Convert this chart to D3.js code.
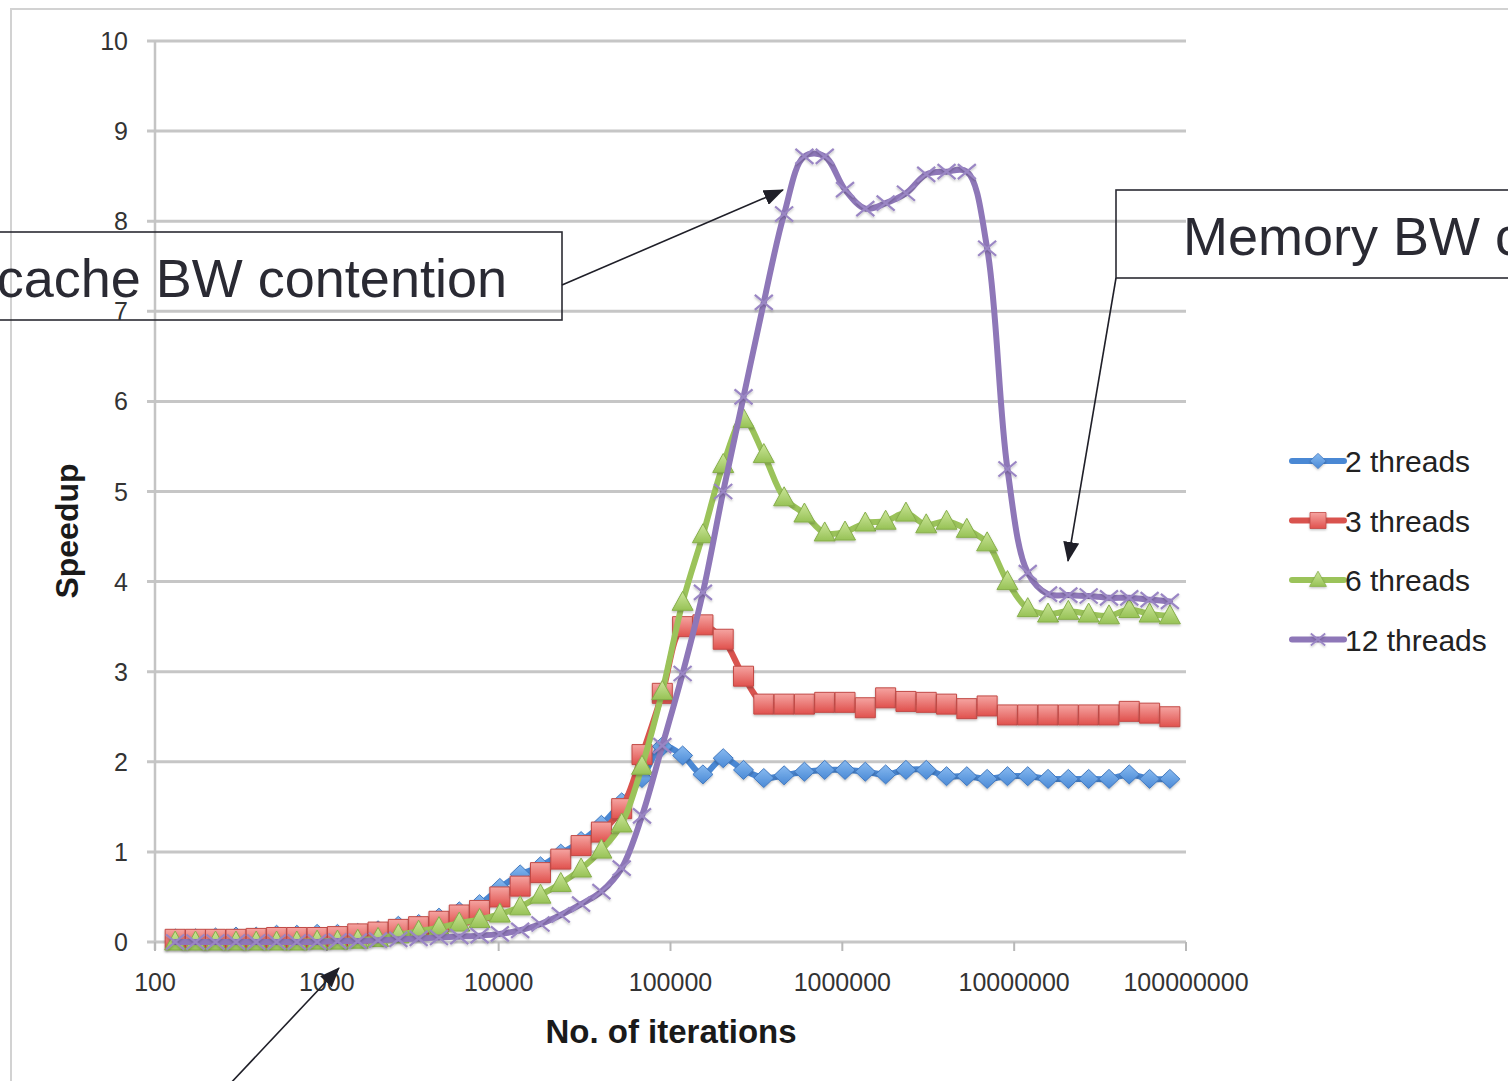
<!DOCTYPE html>
<html>
<head>
<meta charset="utf-8">
<script src="https://cdn.jsdelivr.net/npm/d3@7"></script>
<style>
  body { margin: 0; background: #fff; overflow: hidden; }
  svg { display: block; }
</style>
</head>
<body>
<svg id="chart" width="1508" height="1081"></svg>
<script>
//// data ////
const iterations = [131, 172, 225, 296, 388, 510, 669, 878, 1153, 1513, 1986, 2607, 3422, 4493, 5897, 7742,
  10162, 13339, 17511, 22985, 30174, 39612, 51998, 68262, 89603, 117621, 154418, 202677, 266070, 349140,
  458353, 601737, 789680, 1036810, 1360540, 1786488, 2345500, 3077853, 4040894, 5302634, 6961771, 9141132,
  11995278, 15748778, 20666310, 27132796, 35629005, 46753861, 61390000, 80572000];

const threads2 = [0.04, 0.04, 0.05, 0.06, 0.06, 0.08, 0.08, 0.09, 0.09, 0.10, 0.13, 0.18, 0.20, 0.27, 0.34, 0.42,
  0.60, 0.75, 0.84, 0.98, 1.12, 1.30, 1.55, 1.82, 2.17, 2.07, 1.86, 2.04, 1.91, 1.82, 1.85, 1.89, 1.91, 1.91,
  1.89, 1.86, 1.91, 1.91, 1.84, 1.84, 1.81, 1.84, 1.84, 1.81, 1.81, 1.81, 1.81, 1.86, 1.81, 1.81];

const threads3 = [0.03, 0.03, 0.03, 0.03, 0.04, 0.05, 0.05, 0.05, 0.06, 0.09, 0.11, 0.14, 0.17, 0.23, 0.30, 0.35,
  0.50, 0.62, 0.77, 0.92, 1.07, 1.22, 1.48, 2.08, 2.76, 3.50, 3.52, 3.36, 2.95, 2.64, 2.64, 2.64, 2.66, 2.66,
  2.60, 2.71, 2.67, 2.66, 2.64, 2.59, 2.62, 2.52, 2.52, 2.52, 2.52, 2.52, 2.52, 2.56, 2.54, 2.50];

const threads6 = [0.0, 0.0, 0.0, 0.0, 0.0, 0.0, 0.0, 0.01, 0.01, 0.02, 0.04, 0.08, 0.12, 0.16, 0.21, 0.25,
  0.31, 0.39, 0.52, 0.65, 0.81, 1.02, 1.31, 1.95, 2.78, 3.77, 4.52, 5.30, 5.80, 5.41, 4.93, 4.75, 4.54, 4.55,
  4.65, 4.67, 4.76, 4.63, 4.67, 4.58, 4.43, 4.00, 3.70, 3.64, 3.67, 3.64, 3.62, 3.69, 3.64, 3.62];

const threads12 = [0.0, 0.0, 0.0, 0.0, 0.0, 0.0, 0.0, 0.0, 0.01, 0.01, 0.02, 0.03, 0.04, 0.05, 0.06, 0.07,
  0.09, 0.13, 0.20, 0.30, 0.42, 0.56, 0.82, 1.40, 2.18, 2.98, 3.88, 5.00, 6.05, 7.10, 8.08, 8.72, 8.72, 8.35,
  8.14, 8.20, 8.31, 8.52, 8.55, 8.55, 7.70, 5.25, 4.10, 3.86, 3.85, 3.84, 3.82, 3.82, 3.80, 3.78];

const seriesNames = ['2 threads', '3 threads', '6 threads', '12 threads'];
const yTicks = [0, 1, 2, 3, 4, 5, 6, 7, 8, 9, 10];
const xTicks = [100, 1000, 10000, 100000, 1000000, 10000000, 100000000];
const xTickLabels = ['100', '1000', '10000', '100000', '1000000', '10000000', '100000000'];

const allSeries = [
  {name: seriesNames[0], values: threads2, line: '#4a88d4', marker: 'diamond', grad: ['#86b9f0', '#4b8ad6'], edge: '#4279c0'},
  {name: seriesNames[1], values: threads3, line: '#d9534e', marker: 'square', grad: ['#f5a4a1', '#e0514d'], edge: '#c24a46'},
  {name: seriesNames[2], values: threads6, line: '#9bc35a', marker: 'triangle', grad: ['#cce69a', '#97c256'], edge: '#86ae4a'},
  {name: seriesNames[3], values: threads12, line: '#8e77b8', marker: 'cross', grad: null, edge: '#9a86c4'}
];

let svg = d3.select('#chart');

let x = d3.scaleLog().domain([100, 1e8]).range([155, 1186]);
let y = d3.scaleLinear().domain([0, 10]).range([942, 41]);

///// defs: gradients + arrow /////
let defs = svg.append('defs');
allSeries.forEach((s, i) => {
  if (!s.grad) return;
  let g = defs.append('linearGradient').attr('id', 'grad' + i)
    .attr('x1', 0).attr('x2', 0).attr('y1', 0).attr('y2', 1);
  g.append('stop').attr('offset', '0%').attr('stop-color', s.grad[0]);
  g.append('stop').attr('offset', '100%').attr('stop-color', s.grad[1]);
});
defs.append('filter').attr('id', 'shadow').attr('x', '-50%').attr('y', '-50%').attr('width', '200%').attr('height', '200%')
  .append('feDropShadow').attr('dx', 0).attr('dy', 1.5).attr('stdDeviation', 1.2)
  .attr('flood-color', '#000').attr('flood-opacity', 0.25);
defs.append('marker').attr('id', 'arrow')
  .attr('markerUnits', 'userSpaceOnUse')
  .attr('viewBox', '0 0 20 16')
  .attr('refX', 19).attr('refY', 8)
  .attr('markerWidth', 20).attr('markerHeight', 16)
  .attr('orient', 'auto')
  .append('path').attr('d', 'M0,0 L20,8 L0,16 Z').attr('fill', '#1f1f28');

///// chart frame /////
svg.append('rect').attr('x', 11).attr('y', 9).attr('width', 1600).attr('height', 1200)
  .attr('fill', 'none').attr('stroke', '#d2d2d2').attr('stroke-width', 2);

///// grid + axes /////
let grid = svg.append('g').classed('grid', true);
grid.selectAll('line').data(yTicks).enter().append('line')
  .attr('x1', 147).attr('x2', x(1e8))
  .attr('y1', d => y(d)).attr('y2', d => y(d))
  .attr('stroke', '#c6c6c6').attr('stroke-width', 3);

svg.append('line').attr('x1', x(100)).attr('x2', x(100)).attr('y1', y(10)).attr('y2', y(0) + 8)
  .attr('stroke', '#c4c4c4').attr('stroke-width', 2.5);

svg.append('g').selectAll('line').data(xTicks).enter().append('line')
  .attr('x1', d => x(d)).attr('x2', d => x(d))
  .attr('y1', y(0)).attr('y2', y(0) + 9)
  .attr('stroke', '#b8b8b8').attr('stroke-width', 2);

svg.append('g').selectAll('text').data(yTicks).enter().append('text')
  .text(d => d)
  .attr('x', 128).attr('y', d => y(d) + 9)
  .attr('text-anchor', 'end')
  .style('font-family', 'Liberation Sans, Arial, sans-serif').style('font-size', '25px').style('fill', '#333');

svg.append('g').selectAll('text').data(xTicks).enter().append('text')
  .text((d, i) => xTickLabels[i])
  .attr('x', d => x(d)).attr('y', 991)
  .attr('text-anchor', 'middle')
  .style('font-family', 'Liberation Sans, Arial, sans-serif').style('font-size', '25px').style('fill', '#333');

svg.append('text').text('No. of iterations')
  .attr('x', 671).attr('y', 1043).attr('text-anchor', 'middle')
  .style('font-family', 'Liberation Sans, Arial, sans-serif').style('font-weight', 'bold')
  .style('font-size', '33px').style('fill', '#1a1a1a');

svg.append('text').text('Speedup')
  .attr('transform', 'translate(78, 531) rotate(-90)').attr('text-anchor', 'middle')
  .style('font-family', 'Liberation Sans, Arial, sans-serif').style('font-weight', 'bold')
  .style('font-size', '32px').style('fill', '#1a1a1a');

///// marker shapes /////
function markerPath(type) {
  if (type === 'diamond') return 'M0,-9.5 L10,0 L0,9.5 L-10,0 Z';
  if (type === 'square') return 'M-10,-10 H10 V10 H-10 Z';
  if (type === 'triangle') return 'M0,-11 L10.5,8 L-10.5,8 Z';
  return 'M-9,-7.5 L9,7.5 M-9,7.5 L9,-7.5';
}

function drawMarker(sel, s, idx) {
  sel.append('path').attr('d', markerPath(s.marker))
    .attr('fill', s.grad ? 'url(#grad' + idx + ')' : 'none')
    .attr('stroke', s.edge)
    .attr('stroke-width', s.grad ? 1 : 2.2)
    .attr('filter', 'url(#shadow)');
}

///// series /////
let lineGen = d3.line()
  .x((d, i) => x(iterations[i]))
  .y(d => y(d))
  .curve(d3.curveCatmullRom.alpha(0.5));

let seriesGroups = svg.append('g').classed('series', true)
  .selectAll('g').data(allSeries).enter().append('g');

seriesGroups.each(function(s, idx) {
  let g = d3.select(this);
  g.append('path').attr('d', lineGen(s.values))
    .attr('fill', 'none').attr('stroke', s.line).attr('stroke-width', 6)
    .attr('stroke-linejoin', 'round').attr('stroke-linecap', 'round');
  let nodes = g.selectAll('.pt').data(s.values).enter().append('g').classed('pt', true)
    .attr('transform', (d, i) => 'translate(' + x(iterations[i]) + ',' + y(d) + ')');
  drawMarker(nodes, s, idx);
});

///// legend /////
let legend = svg.append('g').attr('transform', 'translate(1292, 461)');
let items = legend.selectAll('g').data(allSeries).enter().append('g')
  .attr('transform', (d, i) => 'translate(0,' + (i * 59.5) + ')');
items.append('line').attr('x1', 0).attr('x2', 52).attr('y1', 0).attr('y2', 0)
  .attr('stroke', d => d.line).attr('stroke-width', 6).attr('stroke-linecap', 'round');
items.each(function(s, idx) {
  let m = d3.select(this).append('g').attr('transform', 'translate(26,0) scale(0.8)');
  drawMarker(m, s, idx);
});
items.append('text').text(d => d.name)
  .attr('x', 53).attr('y', 11)
  .style('font-family', 'Liberation Sans, Arial, sans-serif').style('font-size', '30px').style('fill', '#222');

///// callouts /////
let notes = svg.append('g').classed('callouts', true);
notes.append('rect').attr('x', -10).attr('y', 232).attr('width', 572).attr('height', 88)
  .attr('fill', 'none').attr('stroke', '#2b2b33').attr('stroke-width', 1.6);
notes.append('text').text('cache BW contention')
  .attr('x', 507).attr('y', 297).attr('text-anchor', 'end')
  .style('font-family', 'Liberation Sans, Arial, sans-serif').style('font-size', '54px').style('fill', '#2a2a33');
notes.append('line').attr('x1', 562).attr('y1', 285).attr('x2', 783).attr('y2', 190)
  .attr('stroke', '#1f1f28').attr('stroke-width', 1.6).attr('marker-end', 'url(#arrow)');

notes.append('rect').attr('x', 1116).attr('y', 190).attr('width', 500).attr('height', 88)
  .attr('fill', 'none').attr('stroke', '#2b2b33').attr('stroke-width', 1.6);
notes.append('text').text('Memory BW contention')
  .attr('x', 1183).attr('y', 255)
  .style('font-family', 'Liberation Sans, Arial, sans-serif').style('font-size', '54px').style('fill', '#2a2a33');
notes.append('line').attr('x1', 1116).attr('y1', 278).attr('x2', 1068).attr('y2', 561)
  .attr('stroke', '#1f1f28').attr('stroke-width', 1.6).attr('marker-end', 'url(#arrow)');

notes.append('line').attr('x1', 228).attr('y1', 1086).attr('x2', 339).attr('y2', 968)
  .attr('stroke', '#1f1f28').attr('stroke-width', 1.6).attr('marker-end', 'url(#arrow)');
</script>
</body>
</html>
